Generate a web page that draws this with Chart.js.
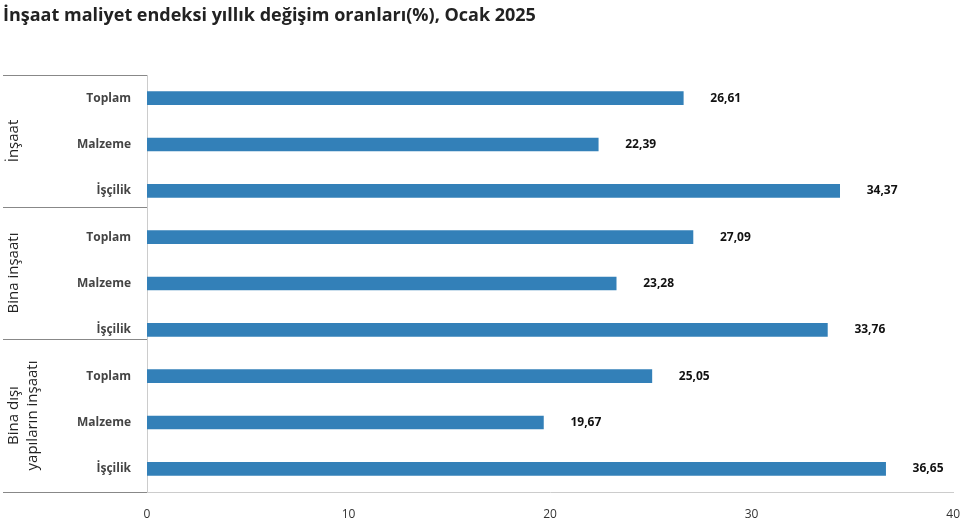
<!DOCTYPE html><html><head><meta charset="utf-8">
<script src="https://cdn.jsdelivr.net/npm/chart.js@4"></script>
<style>body{margin:0;background:#fff}#w{width:975px;height:522px;position:relative}</style></head><body>
<div id="w"><canvas id="c"></canvas></div>
<script>
const categories=["Toplam","Malzeme","İşçilik","Toplam","Malzeme","İşçilik","Toplam","Malzeme","İşçilik"];
const groups=[["İnşaat"],["Bina inşaatı"],["Bina dışı","yapıların inşaatı"]];
const values=[26.61,22.39,34.37,27.09,23.28,33.76,25.05,19.67,36.65];
const xTicks=[0,10,20,30,40];
const fmt=v=>v.toFixed(2).replace('.',',');
const deco={id:'deco',afterDraw(ch){
 const c=ch.ctx,a=ch.chartArea;
 c.save();
 c.fillStyle='#222';c.font='bold 18px "Open Sans"';c.textBaseline='alphabetic';c.textAlign='left';
 c.fillText('İnşaat maliyet endeksi yıllık değişim oranları(%), Ocak 2025',3,21);
 const m=ch.getDatasetMeta(0);
 c.font='bold 12px "Open Sans"';c.fillStyle='#111';c.textBaseline='middle';
 m.data.forEach((b,i)=>c.fillText(fmt(values[i]),b.x+27,b.y));
 c.strokeStyle='#888';c.lineWidth=1;
 const seps=[a.top,207,339,a.bottom];
 seps.forEach(y=>{c.beginPath();c.moveTo(3,y+.5);c.lineTo(a.left,y+.5);c.stroke();});
 c.font='15px "Open Sans"';c.fillStyle='#222';c.textAlign='center';
 groups.forEach((g,i)=>{const yc=(seps[i]+seps[i+1])/2;c.save();c.translate(g.length>1?23:14,yc);c.rotate(-Math.PI/2);
  g.forEach((t,j)=>c.fillText(t,0,(j-(g.length-1)/2)*19));c.restore();});
 c.restore();}};
new Chart(document.getElementById('c'),{type:'bar',
 data:{labels:categories,datasets:[{data:values,backgroundColor:'#3380b8',barThickness:13}]},
 options:{indexAxis:'y',responsive:true,maintainAspectRatio:false,animation:false,
  layout:{padding:{top:75,right:4,left:0,bottom:0}},
  plugins:{legend:{display:false},tooltip:{enabled:false}},
  scales:{
   x:{min:0,max:40,afterBuildTicks:s=>{s.ticks=xTicks.map(v=>({value:v}))},
      afterFit:s=>{s.height=30},
      grid:{display:false,drawTicks:false},border:{color:'#ccc'},
      ticks:{padding:15,color:'#333',font:{size:12,family:'"Open Sans"'}}},
   y:{grid:{display:false,drawTicks:false},border:{color:'#ccc'},
      afterFit:s=>{s.width=147},
      ticks:{padding:16,color:'#444',font:{size:12,weight:'bold',family:'"Open Sans"'}}}}},
 plugins:[deco]});
</script></body></html>
